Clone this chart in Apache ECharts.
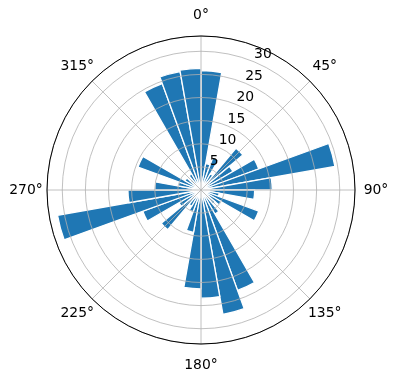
<!DOCTYPE html>
<html>
<head>
<meta charset="utf-8">
<script src="https://cdn.jsdelivr.net/npm/echarts@6/dist/echarts.min.js"></script>
<style>
html,body{margin:0;padding:0;background:#fff;}
#chart{width:396px;height:380px;}
</style>
</head>
<body>
<div id="chart"></div>
<script>
// Direction bins (start angle of each 10° sector, clockwise from north)
const directions = [0,10,20,30,40,50,60,70,80,90,100,110,120,130,140,150,160,170,
                    180,190,200,210,220,230,240,250,260,270,280,290,300,310,320,330,340,350];
// Bar lengths per sector
const values = [25.8,5.8,7.5,4.0,11.8,8.0,13.3,29.4,15.4,11.6,4.0,13.3,5.0,4.0,6.0,23.1,27.3,23.4,
                21.4,9.3,5.0,4.0,11.2,5.5,13.4,31.5,15.8,10.0,5.0,14.5,4.0,3.0,4.0,24.5,26.0,26.3];
// Tick labels
const thetaTicks = ['0°','45°','90°','135°','180°','225°','270°','315°'];
const rTicks = [5,10,15,20,25,30];

const rMax = 33.3;
const C = [201,190];
const R = 154;
const gridColor = '#b0b0b0';
const font = 'DejaVu Sans';
const fs = 13.9;
const labelGap = 21;   // distance from outer circle to the centre of each angle label
const baseMargin = -10;

// Centre each angle label on a circle just outside the frame (as matplotlib does)
const mctx = document.createElement('canvas').getContext('2d');
mctx.font = fs + 'px "' + font + '"';
const rich = {};
thetaTicks.forEach(function(t, i){
  const a = i * 45 * Math.PI / 180;
  const s = Math.sin(a), c = Math.cos(a);
  const w = mctx.measureText(t).width, h = fs;
  const ax = s * (R + baseMargin), ay = -c * (R + baseMargin);
  const px = s * (R + labelGap), py = -c * (R + labelGap);
  const hA = Math.abs(s) < 0.3 ? 'center' : (s > 0 ? 'left' : 'right');
  const vA = Math.abs(c) < 0.3 ? 'middle' : (-c > 0 ? 'top' : 'bottom');
  let pt = 0, pr = 0, pb = 0, pl = 0;
  if (hA === 'left') pl = (px - w / 2) - ax;
  else if (hA === 'right') pr = ax - (px + w / 2);
  if (vA === 'bottom') pb = ay - (py + h / 2);
  else if (vA === 'top') pt = (py - h / 2) - ay;
  rich['t' + i] = {padding:[Math.max(0,pt), Math.max(0,pr), Math.max(0,pb), Math.max(0,pl)],
                   fontFamily:font, fontSize:fs, color:'#000'};
});

const chart = echarts.init(document.getElementById('chart'), null, {renderer:'canvas'});
chart.setOption({
  animation:false,
  backgroundColor:'#fff',
  polar:[
    {center:C, radius:R},
    {center:C, radius:R},
    {center:C, radius:R}
  ],
  angleAxis:[
    {polarIndex:0, type:'category', data:directions, startAngle:90, clockwise:true, boundaryGap:true,
     axisLine:{show:false}, axisTick:{show:false}, axisLabel:{show:false}, splitLine:{show:false}},
    {polarIndex:1, type:'value', min:0, max:360, interval:45, startAngle:90, clockwise:true, z:5,
     axisLine:{show:true, lineStyle:{color:'#000', width:1}},
     axisTick:{show:false},
     splitLine:{show:true, lineStyle:{color:gridColor, width:0.8}},
     axisLabel:{show:true, margin:baseMargin, color:'#000', fontFamily:font, fontSize:fs, rich:rich,
       formatter:function(v){ const i = Math.round(v/45); return (v < 360 && v % 45 === 0) ? '{t' + i + '|' + thetaTicks[i] + '}' : ''; }}},
    {polarIndex:2, type:'value', min:0, max:360, startAngle:67.5, clockwise:true,
     axisLine:{show:false}, axisTick:{show:false}, axisLabel:{show:false}, splitLine:{show:false}}
  ],
  radiusAxis:[
    {polarIndex:0, type:'value', min:0, max:rMax, show:false,
     axisLine:{show:false}, axisTick:{show:false}, axisLabel:{show:false}, splitLine:{show:false}},
    {polarIndex:1, type:'value', min:0, max:rMax, interval:5, z:5,
     axisLine:{show:false}, axisTick:{show:false}, axisLabel:{show:false},
     splitLine:{show:true, lineStyle:{color:gridColor, width:0.8}}},
    {polarIndex:2, type:'value', min:0, max:rMax, interval:5, z:6,
     axisLine:{show:false}, axisTick:{show:false}, splitLine:{show:false},
     axisLabel:{show:true, margin:0, color:'#000', fontFamily:font, fontSize:fs, align:'left', verticalAlign:'bottom',
       formatter:function(v){ return rTicks.indexOf(v) >= 0 ? String(v) : ''; }}}
  ],
  series:[{
    type:'bar', coordinateSystem:'polar', polarIndex:0,
    data:values, barCategoryGap:'0%',
    itemStyle:{color:'#1f77b4', borderColor:'#ffffff', borderWidth:1.3},
    z:2
  }]
});
</script>
</body>
</html>
